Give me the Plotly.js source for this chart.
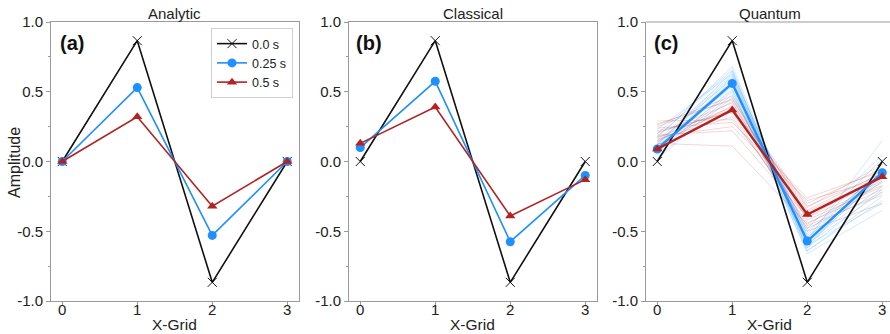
<!DOCTYPE html>
<html><head><meta charset="utf-8">
<script src="https://cdn.plot.ly/plotly-3.0.1.min.js"></script>
<style>html,body{margin:0;padding:0;background:#fff}#chart{width:890px;height:334px}</style>
</head><body><div id="chart"></div>
<script>
const xGrid = [0, 1, 2, 3];
const panelTitles = ["Analytic", "Classical", "Quantum"];
const panelLabels = ["(a)", "(b)", "(c)"];
const seriesNames = ["0.0 s", "0.25 s", "0.5 s"];
const yTickVals = [-1, -0.5, 0, 0.5, 1];
const yTickText = ["-1.0", "-0.5", "0.0", "0.5", "1.0"];
const xTickVals = [0, 1, 2, 3];
const xTickText = ["0", "1", "2", "3"];

const analyticT0 = [0, 0.866, -0.866, 0];
const analyticT25 = [0, 0.53, -0.53, 0];
const analyticT50 = [0, 0.32, -0.32, 0];

const classicalT0 = [0, 0.866, -0.866, 0];
const classicalT25 = [0.10, 0.575, -0.575, -0.10];
const classicalT50 = [0.13, 0.39, -0.39, -0.13];

const quantumT0 = [0, 0.866, -0.866, 0];
const quantumT25 = [0.09, 0.56, -0.57, -0.08];
const quantumT50 = [0.09, 0.37, -0.38, -0.11];

const quantumRunsT25 = [
  [0.05, 0.50, -0.60, -0.10],
  [0.08, 0.55, -0.55, -0.05],
  [0.12, 0.60, -0.58, -0.12],
  [0.15, 0.62, -0.62, -0.20],
  [0.03, 0.48, -0.52, 0.02],
  [0.18, 0.65, -0.64, -0.25],
  [0.10, 0.58, -0.50, -0.08],
  [0.20, 0.66, -0.60, -0.30],
  [0.06, 0.52, -0.56, 0.15],
  [0.14, 0.59, -0.66, -0.35],
  [0.17, 0.68, -0.58, -0.18],
  [0.09, 0.54, -0.62, -0.02],
  [0.23, 0.63, -0.54, -0.14],
  [0.02, 0.46, -0.48, 0.05],
  [0.11, 0.57, -0.59, -0.22],
  [0.13, 0.61, -0.53, -0.06],
  [0.07, 0.51, -0.64, -0.28],
  [0.12, 0.64, -0.57, -0.10]
];
const quantumRunsT50 = [
  [0.29, 0.30, -0.40, -0.10],
  [0.13, 0.11, -0.45, -0.15],
  [0.20, 0.42, -0.35, -0.08],
  [0.15, 0.38, -0.30, -0.05],
  [0.25, 0.45, -0.42, -0.18],
  [0.18, 0.25, -0.28, -0.12],
  [0.22, 0.35, -0.48, -0.22],
  [0.12, 0.40, -0.33, -0.02],
  [0.26, 0.47, -0.38, -0.14],
  [0.16, 0.32, -0.44, -0.20],
  [0.24, 0.28, -0.26, -0.07],
  [0.14, 0.43, -0.50, -0.30],
  [0.21, 0.36, -0.36, -0.11],
  [0.19, 0.22, -0.40, -0.17],
  [0.27, 0.44, -0.32, -0.09],
  [0.17, 0.39, -0.46, -0.24]
];

const BLACK = '#111111', BLUE = '#1E90FF', RED = '#B22222';
const FONT = 'Liberation Sans, Arial, sans-serif';

function runsTrace(runs, color, xa, ya) {
  const xs = [], ys = [];
  runs.forEach(r => { r.forEach((v, i) => { xs.push(xGrid[i]); ys.push(v); }); xs.push(null); ys.push(null); });
  return {x: xs, y: ys, xaxis: xa, yaxis: ya, mode: 'lines', showlegend: false, hoverinfo: 'skip',
          line: {color: color, width: 1}, connectgaps: false};
}
function mainTraces(t0, t25, t50, xa, ya, legend, w) {
  return [
    {x: xGrid, y: t0, xaxis: xa, yaxis: ya, name: seriesNames[0], showlegend: legend, mode: 'lines+markers',
     line: {color: BLACK, width: 1.6}, marker: {symbol: 'x-thin', size: 9, line: {color: BLACK, width: 1}}},
    {x: xGrid, y: t25, xaxis: xa, yaxis: ya, name: seriesNames[1], showlegend: legend, mode: 'lines+markers',
     line: {color: BLUE, width: w}, marker: {symbol: 'circle', size: 9, color: BLUE}},
    {x: xGrid, y: t50, xaxis: xa, yaxis: ya, name: seriesNames[2], showlegend: legend, mode: 'lines+markers',
     line: {color: RED, width: w}, marker: {symbol: 'triangle-up', size: 9, color: RED}}
  ];
}

const data = [].concat(
  mainTraces(analyticT0, analyticT25, analyticT50, 'x', 'y', true, 1.6),
  mainTraces(classicalT0, classicalT25, classicalT50, 'x2', 'y2', false, 1.6),
  [runsTrace(quantumRunsT25, 'rgba(30,144,255,0.2)', 'x3', 'y3'),
   runsTrace(quantumRunsT50, 'rgba(178,34,34,0.18)', 'x3', 'y3')],
  mainTraces(quantumT0, quantumT25, quantumT50, 'x3', 'y3', false, 2.4)
);

const W = 890, H = 334, T = 22, B = 33, PH = H - T - B;
function px(x) { return x / W; }
function py(y) { return (H - B - y) / PH; }

function xax(dom, range, anchor, mirror) {
  return {domain: dom, range: range, anchor: anchor, showgrid: false, zeroline: false,
    showline: true, mirror: mirror, linecolor: '#9a9a9a', linewidth: 1,
    ticks: 'outside', ticklen: 4, tickcolor: '#9a9a9a', tickvals: xTickVals, ticktext: xTickText,
    ticklabelstandoff: -9,
    tickfont: {family: FONT, size: 15, color: '#222'}};
}
function yax(anchor, mirror) {
  return {domain: [0, 1], range: [-1, 1], anchor: anchor, showgrid: false, zeroline: false,
    showline: true, mirror: mirror, linecolor: '#9a9a9a', linewidth: 1,
    ticks: 'outside', ticklen: 4, tickcolor: '#9a9a9a', tickvals: yTickVals, ticktext: yTickText,
    tickfont: {family: FONT, size: 15, color: '#222'},
    minor: {ticks: 'outside', dtick: 0.25, tick0: 0, ticklen: 2, tickcolor: '#9a9a9a'}};
}

const domA = [px(51), px(298.5)], domB = [px(349), px(596.5)], domC = [px(646), 1];
const centers = [(51 + 298.5) / 2, (349 + 596.5) / 2, (646 + 893.5) / 2];
const labelX = [58, 354, 652];

const annotations = [];
panelTitles.forEach((t, i) => {
  annotations.push({text: t, xref: 'paper', yref: 'paper', x: px(centers[i]), y: py(14), xanchor: 'center', yanchor: 'middle',
    showarrow: false, font: {family: FONT, size: 15, color: '#222'}});
  annotations.push({text: 'X-Grid', xref: 'paper', yref: 'paper', x: px(centers[i]), y: py(324), xanchor: 'center', yanchor: 'middle',
    showarrow: false, font: {family: FONT, size: 15.5, color: '#222'}});
  annotations.push({text: '<b>' + panelLabels[i] + '</b>', xref: 'paper', yref: 'paper', x: px(labelX[i]), y: py(43), xanchor: 'left', yanchor: 'middle',
    showarrow: false, font: {family: FONT, size: 20, color: '#111'}});
});
annotations.push({text: 'Amplitude', xref: 'paper', yref: 'paper', x: px(14), y: py(163), xanchor: 'center', yanchor: 'middle',
  textangle: -90, showarrow: false, font: {family: FONT, size: 16, color: '#222'}});

const layout = {
  width: W, height: H, margin: {l: 0, r: 0, t: T, b: B}, paper_bgcolor: '#fff', plot_bgcolor: '#fff',
  showlegend: true,
  legend: {x: px(293), y: py(28), xanchor: 'right', yanchor: 'top', bgcolor: '#fff', bordercolor: '#d0d0d0', borderwidth: 1,
    font: {family: FONT, size: 12.5, color: '#222'}, itemwidth: 30, tracegroupgap: 0},
  xaxis: xax(domA, [-0.15, 3.15], 'y', true),
  yaxis: yax('x', true),
  xaxis2: xax(domB, [-0.15, 3.15], 'y2', true),
  yaxis2: yax('x2', true),
  xaxis3: xax(domC, [-0.15, -0.15 + (890 - 646) / 75], 'y3', false),
  yaxis3: yax('x3', false),
  annotations: annotations,
  shapes: [{type: 'line', xref: 'paper', yref: 'paper', x0: px(646), x1: 1, y0: 1, y1: 1, line: {color: '#9a9a9a', width: 1}}]
};

Plotly.newPlot('chart', data, layout, {displayModeBar: false, staticPlot: true});
</script></body></html>
